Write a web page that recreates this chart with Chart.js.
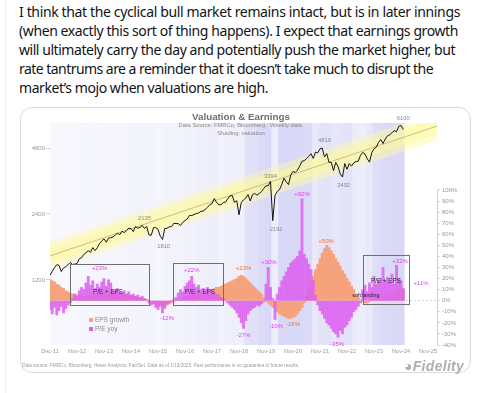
<!DOCTYPE html>
<html>
<head>
<meta charset="utf-8">
<title>Valuation &amp; Earnings</title>
<script src="https://cdn.jsdelivr.net/npm/chart.js@4.4.1/dist/chart.umd.min.js"></script>
<style>
  html, body { margin: 0; padding: 0; background: #fff; }
  body { width: 479px; height: 393px; position: relative; overflow: hidden; font-family: "Liberation Sans", Arial, sans-serif; }
  .rail { position: absolute; left: 5px; top: 0; width: 1px; height: 393px; background: #eceff1; }
  .tw { position: absolute; left: 19px; font-family: "Noto Sans", sans-serif; font-size: 14px; line-height: 20px; color: #0f1419; white-space: nowrap; }
  .card { position: absolute; left: 20px; top: 107px; width: 451px; height: 266px; border: 1px solid #d6dde1; border-radius: 12px; box-sizing: border-box; }
  canvas { position: absolute; left: 0; top: 0; }
  .ov { position: absolute; white-space: nowrap; pointer-events: none; }
  .title { left: 141px; width: 200px; top: 111px; text-align: center; font-weight: bold; font-size: 9.8px; line-height: 12px; color: #6e6e6e; }
  .sub { left: 141px; width: 200px; text-align: center; font-size: 5.8px; line-height: 7px; color: #888; }
  .lg { left: 95px; font-size: 6.5px; line-height: 8px; color: #8a8a8a; }
  .sq { position: absolute; width: 4px; height: 4px; left: 89px; }
  .foot { left: 22px; top: 363px; font-size: 4.7px; line-height: 6px; color: #9a9a9a; }
  .logo { left: 404px; top: 358px; font-size: 14px; font-weight: bold; font-style: italic; color: #aab2ac; letter-spacing: 0.3px; }
</style>
</head>
<body>
<div class="rail"></div>
<div class="tw" style="top:2px" data-w="441">I think that the cyclical bull market remains intact, but is in later innings</div>
<div class="tw" style="top:21px" data-w="439">(when exactly this sort of thing happens). I expect that earnings growth</div>
<div class="tw" style="top:40px" data-w="436">will ultimately carry the day and potentially push the market higher, but</div>
<div class="tw" style="top:59px" data-w="414">rate tantrums are a reminder that it doesn’t take much to disrupt the</div>
<div class="tw" style="top:78px" data-w="249">market’s mojo when valuations are high.</div>
<div class="card"></div>
<canvas id="chart" width="479" height="393"></canvas>
<div class="ov title">Valuation &amp; Earnings</div>
<div class="ov sub" style="top:122px">Data Source: FMRCo, Bloomberg.&nbsp; Weekly data.</div>
<div class="ov sub" style="top:130px">Shading: valuation</div>
<div class="sq" style="top:318px;background:#f6a27c"></div>
<div class="sq" style="top:327px;background:#dc62f0"></div>
<div class="ov lg" style="top:316px">EPS growth</div>
<div class="ov lg" style="top:325px">P/E yoy</div>
<div class="ov foot">Data source: FMRCo, Bloomberg, Haver Analytics, FactSet. Data as of 1/13/2025. Past performance is no guarantee of future results.</div>
<div class="ov logo">&#9685;Fidelity</div>
<script>
// monthly, Dec-11 .. Jan-25 (index 0 = Dec-11)
const price = [
  1258,
  1312,1366,1408,1398,1310,1362,1379,1407,1441,1412,1416,1426,   // 2012
  1498,1515,1569,1598,1631,1606,1686,1633,1682,1757,1806,1848,   // 2013
  1783,1859,1872,1884,1924,1960,1931,2003,1972,2018,2068,2059,   // 2014
  1995,2105,2068,2086,2130,2063,2104,1925,1920,2079,2080,2044,   // 2015
  1900,1835,2060,2065,2097,2099,2174,2171,2168,2126,2199,2239,   // 2016
  2279,2364,2363,2384,2412,2423,2470,2472,2519,2575,2648,2674,   // 2017
  2824,2714,2641,2648,2705,2718,2816,2902,2914,2712,2760,2380,   // 2018
  2704,2784,2834,2946,2752,2942,2980,2926,2977,3038,3141,3231,   // 2019
  3226,3386,2237,2912,3044,3100,3271,3500,3363,3270,3622,3756,   // 2020
  3714,3811,3973,4181,4204,4298,4395,4523,4308,4605,4567,4766,   // 2021
  4800,4374,4530,4132,4132,3785,4130,3955,3650,3540,4080,3840,   // 2022
  4077,3970,4109,4169,4180,4450,4589,4508,4288,4140,4568,4770,   // 2023
  4846,5096,5254,5036,5278,5460,5522,5648,5762,5705,6032,6090,   // 2024
  5836
];

const epsGrowth = [
  19,
  18,17,15,14,12,11,9,8,7,6,6,5,
  5,5,4,4,5,5,5,6,6,6,7,7,
  7,8,8,8,8,7,7,7,6,6,5,5,
  4,4,3,3,2,2,1,0,-1,-2,-3,-4,
  -4,-5,-5,-4,-3,-2,-1,0,1,2,3,4,
  4,5,5,6,6,7,7,8,8,9,10,10,
  11,12,12,13,14,15,16,17,18,19,20,22,
  23,22,20,18,16,14,12,10,8,6,3,1,
  -2,-4,-6,-8,-10,-12,-13,-14,-15,-16,-16,-15,
  -14,-12,-9,-6,-2,4,10,16,22,28,33,38,
  43,47,50,48,45,42,38,35,31,27,24,20,
  17,13,10,6,3,1,-1,-2,-2,-1,0,1,
  2,3,3,4,5,5,6,7,7,8,9,9,
  10
];

const peYoy = [
  -8,
  -12,-6,-13,-9,-5,-11,-7,-4,-2,2,6,4,
  9,12,10,16,22,14,18,11,15,12,17,20,
  13,19,16,10,9,11,8,7,9,6,8,5,
  6,4,5,3,4,2,1,-2,-4,-3,-6,-8,
  -5,-11,-7,-3,-2,0,1,3,7,10,8,13,
  16,18,22,15,12,14,10,11,9,12,8,9,
  7,6,5,3,2,0,-2,-4,-6,-8,-11,-15,
  -20,-25,-18,-12,-9,-7,-6,-4,-5,-3,-1,15,
  30,12,2,-17,6,12,18,22,26,30,34,36,
  38,40,45,92,42,38,33,28,18,5,-4,-9,
  -12,-16,-20,-22,-25,-28,-30,-33,-27,-30,-24,-22,
  -18,-15,-10,-8,-5,-2,10,14,8,16,12,22,
  15,18,20,30,18,21,17,24,15,32,20,18,
  11
];

// valuation shading level (0 cheap .. 1 rich), one per quarter starting Dec-11
const valuation = [
  0.03,0.02,0.04,0.03,0.05,0.07,0.05,
  0.08,0.07,0.10,0.08,0.12,0.14,
  0.18,0.10,0.15,0.07,0.15,0.18,0.14,
  0.22,0.18,0.22,0.26,0.30,0.18,0.22,
  0.26,0.22,
  0.65,0.70,0.80,0.85,
  0.30,
  0.85,0.90,0.90,0.85,0.80,
  0.45,0.55,
  0.60,0.50,0.55,0.60,
  0.35,0.30,0.45,
  0.75,0.80,0.85,0.85,0.90
];

const trend = [1545, 6050];          // trend channel, first and last month of axis
const xTickLabels = ['Dec-11','Nov-12','Nov-13','Nov-14','Nov-15','Nov-16','Nov-17','Nov-18',
                     'Nov-19','Nov-20','Nov-21','Nov-22','Nov-23','Nov-24','Nov-25'];
const priceTicks = [1200, 2400, 4800];
const pctTicks = [-40,-30,-20,-10,0,10,20,30,40,50,60,70,80,90,100];
const xMax = 172;

// labels: [month index, value, text]
const priceNotes = [
  [42, 2300, '2135'], [50.5, 1700, '1810'], [98, 3580, '3394'], [100.5, 2050, '2192'],
  [122, 5220, '4819'], [130.5, 3255, '3492'], [157, 6590, '6100']
];
const MAG = '#e040e6', ORG = '#f0722f';
const pctNotes = [
  [22, 29, '+23%', MAG], [63, 27, '+22%', MAG], [52, -16, '-12%', MAG], [86, 29, '+23%', ORG],
  [86, -31, '-27%', MAG], [97.3, 35, '+30%', MAG], [100.4, -23.5, '-10%', MAG], [108, -21, '-16%', ORG],
  [112, 96, '+92%', MAG], [122.7, 54, '+50%', ORG], [127.6, -39, '-35%', MAG], [155.6, 36, '+32%', MAG],
  [164.9, 15.4, '+11%', MAG]
];
const boxNotes = [
  [25.8, 7.2, 'P/E + EPS'], [66.7, 7.2, 'P/E + EPS'], [149.3, 17.2, 'P/E + EPS']
];
// boxes: [from month, to month, top %, bottom %]
const boxes = [[8.9, 44, 33.4, -3.6], [54.7, 76.9, 34.3, -3.6], [139.1, 159.6, 41.5, -2.7]];

// fit tweet lines to their widths
document.querySelectorAll('.tw').forEach(function(el){
  el.style.letterSpacing = '0px';
  var nat = el.getBoundingClientRect().width;
  el.style.letterSpacing = ((+el.dataset.w - nat) / el.textContent.length) + 'px';
});

function shade(v){
  var l = [248,248,253], d = [212,212,246];
  return 'rgb(' + l.map(function(c,k){ return Math.round(c + (d[k]-c)*v); }).join(',') + ')';
}

const pts = arr => arr.map((v, i) => ({x: i, y: v}));
const trendPts = [{x: 0, y: trend[0]}, {x: xMax, y: trend[1]}];

const notesPlugin = {
  id: 'notes',
  afterDatasetsDraw(chart){
    const c = chart.ctx, x = chart.scales.x, yp = chart.scales.yPrice, yc = chart.scales.yPct;
    c.save();
    // right axis line
    c.strokeStyle = '#cfcfcf'; c.lineWidth = 1;
    c.beginPath();
    c.moveTo(Math.round(yc.left) + 0.5, yc.getPixelForValue(100));
    c.lineTo(Math.round(yc.left) + 0.5, yc.getPixelForValue(-40));
    c.stroke();
    // boxes
    c.strokeStyle = '#6f6f6f';
    boxes.forEach(function(b){
      var l = Math.round(x.getPixelForValue(b[0])) + 0.5, r = Math.round(x.getPixelForValue(b[1])) + 0.5;
      var t = Math.round(yc.getPixelForValue(b[2])) + 0.5, bt = Math.round(yc.getPixelForValue(b[3])) + 0.5;
      c.strokeRect(l, t, r - l, bt - t);
    });
    c.textAlign = 'center'; c.textBaseline = 'middle';
    c.font = '5.8px "Liberation Sans", Arial, sans-serif';
    c.fillStyle = '#8a8a8a';
    priceNotes.forEach(function(n){ c.fillText(n[2], x.getPixelForValue(n[0]), yp.getPixelForValue(n[1])); });
    c.font = '6px "Liberation Sans", Arial, sans-serif';
    pctNotes.forEach(function(n){ c.fillStyle = n[3]; c.fillText(n[2], x.getPixelForValue(n[0]), yc.getPixelForValue(n[1])); });
    c.font = '6.3px "Liberation Sans", Arial, sans-serif';
    c.fillStyle = '#333';
    boxNotes.forEach(function(n){ c.fillText(n[2], x.getPixelForValue(n[0]), yc.getPixelForValue(n[1])); });
    c.font = '5.3px "Liberation Sans", Arial, sans-serif';
    c.fillStyle = '#222';
    c.fillText('soft landing', x.getPixelForValue(140.4), yc.getPixelForValue(4.5));
    c.restore();
  }
};

Chart.defaults.font.family = '"Liberation Sans", Arial, sans-serif';

new Chart(document.getElementById('chart'), {
  type: 'line',
  data: {
    datasets: [
      { type: 'line', label: 'S&P 500', data: pts(price), yAxisID: 'yPrice',
        borderColor: '#161616', borderWidth: 1, pointRadius: 0, order: 1 },
      { type: 'bar', label: 'P/E yoy', data: pts(peYoy), yAxisID: 'yPct',
        backgroundColor: 'rgba(220,98,240,0.85)', grouped: false, barPercentage: 1, categoryPercentage: 1, order: 2 },
      { type: 'bar', label: 'EPS growth', data: pts(epsGrowth), yAxisID: 'yPct',
        backgroundColor: '#f6a27c', grouped: false, barPercentage: 1, categoryPercentage: 1, order: 3 },
      { type: 'line', label: 'trend', data: trendPts, yAxisID: 'yPrice',
        borderColor: 'rgba(130,130,130,0.7)', borderWidth: 0.7, pointRadius: 0, clip: 0, order: 4 },
      { type: 'line', label: 'band inner', data: trendPts, yAxisID: 'yPrice',
        borderColor: 'rgba(255,250,150,0.5)', borderWidth: 15, pointRadius: 0, clip: 0, order: 5 },
      { type: 'line', label: 'band outer', data: trendPts, yAxisID: 'yPrice',
        borderColor: 'rgba(255,250,165,0.45)', borderWidth: 27, pointRadius: 0, clip: 0, order: 6 },
      { type: 'bar', label: 'valuation', data: price.map((_, i) => ({x: i, y: 1})), yAxisID: 'yShade',
        backgroundColor: price.map((_, i) => shade(valuation[Math.floor(i / 3)])),
        borderColor: price.map((_, i) => shade(valuation[Math.floor(i / 3)])), borderWidth: 0.4,
        grouped: false, barPercentage: 1, categoryPercentage: 1, order: 7 }
    ]
  },
  options: {
    responsive: false,
    animation: false,
    events: [],
    layout: { padding: { top: 123, left: 0, right: 0, bottom: 0 } },
    plugins: { legend: { display: false }, tooltip: { enabled: false } },
    scales: {
      x: {
        type: 'linear', min: 0, max: xMax, offset: false,
        afterBuildTicks: s => { s.ticks = xTickLabels.map((_, k) => ({value: k * 12})); },
        afterFit: s => { s.height = 48; },
        ticks: { callback: v => xTickLabels[v / 12], autoSkip: false, maxRotation: 0, font: {size: 5.6}, color: '#999', padding: 3 },
        grid: { display: false, drawTicks: false }, border: { display: false }
      },
      yPrice: {
        type: 'logarithmic', position: 'left', min: 605, max: 6250,
        afterBuildTicks: s => { s.ticks = priceTicks.map(v => ({value: v})); },
        afterFit: s => { s.width = 50; },
        ticks: { callback: v => String(v), font: {size: 6}, color: '#999', padding: 1 },
        grid: { drawOnChartArea: false, tickLength: 4, tickColor: '#d0d0d0' }, border: { display: false }
      },
      yPct: {
        type: 'linear', position: 'right', min: -40, max: 160.5,
        afterBuildTicks: s => { s.ticks = pctTicks.map(v => ({value: v})); },
        afterFit: s => { s.width = 42; },
        ticks: { callback: v => v + '%', font: {size: 6}, color: '#999', padding: 2 },
        grid: { color: c => (c.tick && c.tick.value === 0) ? '#c4c4c4' : 'rgba(0,0,0,0)', tickColor: '#cfcfcf', tickLength: 3, lineWidth: 0.8 },
        border: { display: false, dash: [2, 2] }
      },
      yShade: { type: 'linear', display: false, min: 0, max: 1 }
    }
  },
  plugins: [notesPlugin]
});
</script>
</body>
</html>
